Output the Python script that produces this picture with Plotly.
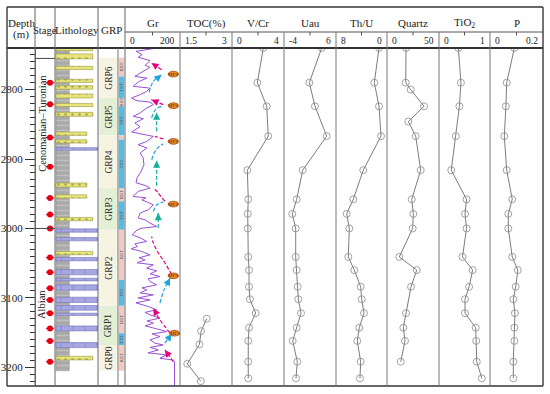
import plotly.graph_objects as go

W, H = 550, 394

# ---------------- data ----------------
depth_range = [3227, 2740]
depth_ticks = [2800, 2900, 3000, 3100, 3200]

stage_names = ["Cenomanian–Turonian", "Albian"]
stage_centers = [2849, 3110]
stage_bounds = [2755, 3000]
sample_marks = [2790, 2821, 2869, 2911, 2956, 2980, 3000, 3042, 3063, 3086, 3103, 3122, 3144, 3162, 3192]

mud_top, mud_base = 2740, 3205
sand_depth = [2741.9, 2752.1, 2768.7, 2787.3, 2796.8, 2809.1, 2822.1, 2835.6, 2863.5, 2874.6, 2937.4, 2953.9, 2986.5, 3035.5, 3186.8]
sand_thick = [3.9, 7.2, 4.8, 4.5, 5.0, 5.8, 4.5, 5.8, 4.9, 4.8, 5.8, 4.8, 4.8, 4.8, 5.3]
sand_end = [0.88, 0.88, 0.88, 0.88, 0.88, 0.88, 0.88, 0.88, 0.74, 0.74, 0.74, 0.74, 0.88, 0.88, 0.88]
lime_depth = [2885.5, 3003, 3015.4, 3044.2, 3063, 3073.6, 3085.1, 3102.9, 3114.4, 3123.8, 3144, 3168.1]
lime_thick = [3.9, 4.8, 4.8, 4.8, 7.7, 3.9, 7.7, 7.7, 6.7, 3.4, 7.2, 7.2]

grp_names = ["GRP6", "GRP5", "GRP4", "GRP3", "GRP2", "GRP1", "GRP0"]
grp_top = [2754, 2812, 2866, 2942, 3002, 3111.5, 3168]
grp_base = [2812, 2866, 2942, 3002, 3111.5, 3168, 3205]
grp_fill = ["#f6f3e3", "#e3f0d6", "#f6f3e3", "#e3f0d6", "#f6f3e3", "#e3f0d6", "#f6f3e3"]

st_top = [2754, 2781, 2812, 2824, 2866, 2872, 2942, 2961, 3002, 3074, 3111.5, 3151, 3168]
st_base = [2781, 2812, 2824, 2866, 2872, 2942, 2961, 3002, 3074, 3111.5, 3151, 3168, 3205]
st_type = ["RST", "TST", "RST", "TST", "RST", "TST", "RST", "TST", "RST", "TST", "RST", "TST", "RST"]

gr_depth = [2740, 2744.8, 2749.5, 2753.4, 2758.2, 2765, 2767.8, 2775.9, 2780.8, 2783.4, 2788.9, 2795.2, 2797.8,
            2802.5, 2807.2, 2812, 2815.9, 2818, 2821.6, 2826.4, 2833.6, 2838.5, 2841.8, 2848, 2853.4, 2861, 2863.9,
            2867.4, 2874.6, 2879.3, 2884.1, 2891.3, 2898.1, 2908.2, 2918.3, 2926.9, 2934.1, 2938.5, 2941.8, 2946.7,
            2953.9, 2955.8, 2958.7, 2963, 2965.9, 2973.1, 2977.8, 2985, 2987.5, 2992.3, 2997.2, 2999.8, 3003.4,
            3009.1, 3013.5, 3018.8, 3022.1, 3026, 3029.3, 3033.2, 3038, 3042.3, 3045.2, 3049.5, 3052.4, 3057.2,
            3061.1, 3065.4, 3069.3, 3072.6, 3076.5, 3081.2, 3085.6, 3088.5, 3092.8, 3095.7, 3100, 3102.9, 3107.2,
            3112.5, 3117.3, 3120.9, 3124.5, 3129.3, 3133.2, 3136.5, 3140.4, 3144.7, 3148.6, 3151.9, 3155.8, 3160.6,
            3165.3, 3167.8, 3171.4, 3175, 3179.3, 3182.2, 3187, 3189.4, 3191.9, 3227]
gr_value = [115, 40, 62, 48, 91, 73, 91, 55, 36, 79, 48, 30, 91,
            79, 55, 24, 43, 91, 103, 79, 55, 30, 67, 36, 55, 24, 67,
            103, 79, 48, 79, 55, 66, 69, 58, 44, 40, 76, 91, 48,
            29, 76, 61, 84, 103, 85, 55, 48, 73, 91, 116, 58, 40,
            26, 55, 79, 36, 45, 22, 61, 91, 51, 73, 44, 103, 79,
            115, 91, 127, 84, 91, 115, 62, 79, 55, 103, 47, 91, 40,
            85, 115, 73, 91, 127, 80, 103, 73, 116, 152, 98, 127, 91,
            109, 139, 91, 121, 84, 152, 127, 170, 180, 180]

# arrows on the Gr track: (depths, Gr values), last point is the head
mag_arrow_depth = [[2771.2, 2761.5], [2821.6, 2814.4], [2871.1, 2867.4], [2961.1, 2948.6, 2941.8],
                   [3066.8, 3049.5, 3035.1, 3020.7, 3011.6], [3150.5, 3131.7, 3114.9], [3191.9, 3175]]
mag_arrow_value = [[133, 96], [139, 96], [140, 109], [145, 120, 105],
                   [170, 145, 121, 103, 97], [164, 127, 103], [176, 145]]
cyan_arrow_depth = [[2803.9, 2788.5, 2778.4], [2840.8, 2828.8, 2823.1], [2901, 2886.5, 2877.9],
                    [2975.5, 2965.9, 2962], [3107.6, 3088.5, 3071.6], [3165.3, 3151.9]]
cyan_arrow_value = [[88, 102, 133], [97, 111, 139], [97, 113, 139],
                    [103, 116, 139], [127, 142, 164], [145, 170]]
teal_arrow_depth = [[2860.1, 2833.2], [2938.5, 2902.4], [2999.5, 2977.8]]
teal_arrow_value = [[115, 115], [115, 115], [121, 121]]
mfs_depth = [2777.6, 2823.1, 2874.6, 2964.9, 3068.3, 3150.9]
mfs_value = [176, 176, 176, 176, 176, 180]

geo_depth = [2740, 2790, 2824, 2867, 2916, 2958, 2979, 3000, 3041, 3060, 3084, 3102, 3122, 3143, 3162, 3192, 3216]
vcr = [2.41, 1.95, 2.67, 2.79, 1.18, 1.25, 1.21, 1.21, 1.25, 1.31, 1.31, 1.38, 1.82, 1.31, 1.25, 1.25, 1.25]
uau = [3.25, 0.87, 1.96, 4.21, -0.40, -1.56, -2.40, -1.75, -1.75, -1.56, -1.37, -1.25, -0.73, -1.56, -2.33, -1.44, -1.69]
thu = [1.25, 1.99, 1.25, 0.94, 3.72, 5.29, 6.32, 5.91, 6.07, 5.13, 4.13, 3.97, 3.61, 4.35, 4.66, 4.13, 4.24]
tio2 = [0.38, 0.43, 0.40, 0.33, 0.24, 0.54, 0.51, 0.54, 0.46, 0.66, 0.59, 0.51, 0.51, 0.72, 0.73, 0.74, 0.84]
p_val = [0.092, 0.063, 0.060, 0.054, 0.063, 0.084, 0.069, 0.069, 0.084, 0.105, 0.097, 0.088, 0.094, 0.092, 0.092, 0.088, 0.088]
quartz_depth = [2740, 2790, 2800, 2824, 2846, 2867, 2916, 2958, 2979, 3000, 3041, 3060, 3084, 3122, 3143, 3162, 3192]
quartz = [18.3, 18.0, 22.8, 35.6, 20.5, 27.6, 32.4, 23.8, 25.3, 24.7, 11.8, 28.6, 23.1, 18.3, 15.7, 17.3, 13.2]
toc_depth = [3130, 3148, 3167, 3195, 3220]
toc = [2.27, 2.11, 2.06, 1.71, 2.10]

track_titles = ["Gr", "TOC(%)", "V/Cr", "Uau", "Th/U", "Quartz", "TiO<sub>2</sub>", "P"]
track_left_labels = ["0", "1.5", "0", "-4", "8", "0", "0", "0"]
track_right_labels = ["200", "3", "4", "6", "0", "50", "1", "0.2"]
track_ranges = [[0, 200], [1.5, 3], [0, 4], [-4, 6], [8, 0], [0, 50], [0, 1], [0, 0.2]]

# ---------------- layout geometry (pixels) ----------------
X0, X1 = 7, 543
Y_TOP, Y_MID, Y_HEAD, Y_BOT = 7, 32, 48, 386
col_edges = [7, 35, 55, 98, 125]
track_edges = [125, 180, 232, 284, 336, 387, 439, 490, 543]
SERIF = "Liberation Serif"


def px(x):
    return x / W


def py(y):
    return 1 - y / H


fig = go.Figure()

layout_axes = {}


def add_xaxis(idx, l, r, rng):
    name = "xaxis" if idx == 1 else f"xaxis{idx}"
    layout_axes[name] = dict(domain=[px(l), px(r)], range=rng, visible=False, anchor="y", fixedrange=True)


add_xaxis(1, 35, 55, [0, 1])      # stage
add_xaxis(2, 55, 98, [0, 1])      # lithology
add_xaxis(3, 98, 125, [0, 1])     # GRP
for i, rng in enumerate(track_ranges):
    add_xaxis(4 + i, track_edges[i], track_edges[i + 1], rng)

# ---- stage column ----
fig.add_trace(go.Scatter(
    x=[0.75] * len(sample_marks), y=sample_marks, xaxis="x", yaxis="y", mode="markers",
    marker=dict(color="#e60012", size=6, symbol="circle"),
    error_x=dict(type="constant", value=0.2, color="#e60012", thickness=1.2, width=0),
    hoverinfo="skip"))

# ---- lithology ----
LB = 0.023
fig.add_trace(go.Bar(
    x=[0.333 - LB], y=[(mud_top + mud_base) / 2], base=[LB], width=[mud_base - mud_top],
    orientation="h", xaxis="x2", yaxis="y",
    marker=dict(color="#a9a9a9", line=dict(color="#8a8a8a", width=0.5),
                pattern=dict(shape="-", fgcolor="#d6d6d6", size=5, solidity=0.3)),
    hoverinfo="skip"))
fig.add_trace(go.Bar(
    x=[e - LB for e in sand_end], y=sand_depth, base=[LB] * len(sand_depth), width=sand_thick,
    orientation="h", xaxis="x2", yaxis="y",
    marker=dict(color="#e6e47a", line=dict(color="#9c9a45", width=0.6),
                pattern=dict(shape=".", fgcolor="#6d6b2a", size=7, solidity=0.12)),
    hoverinfo="skip"))
fig.add_trace(go.Bar(
    x=[1.0 - LB] * len(lime_depth), y=lime_depth, base=[LB] * len(lime_depth), width=lime_thick,
    orientation="h", xaxis="x2", yaxis="y",
    marker=dict(color="#a6a6e2", line=dict(color="#7373b8", width=0.6),
                pattern=dict(shape="|", fgcolor="#7373b8", size=12, solidity=0.08)),
    hoverinfo="skip"))

# ---- Gr track ----
fig.add_trace(go.Scatter(x=gr_value, y=gr_depth, xaxis="x4", yaxis="y", mode="lines",
                         line=dict(color="#9a4fd8", width=1), hoverinfo="skip"))

annotations = []
shapes = []


def add_arrow(depths, values, color, smooth):
    fig.add_trace(go.Scatter(x=values, y=depths, xaxis="x4", yaxis="y", mode="lines",
                             line=dict(color=color, width=1.2, dash="4px,2px",
                                       shape="spline" if smooth else "linear"),
                             hoverinfo="skip"))
    hx, hy = values[-1], depths[-1]
    tx = hx + 0.35 * (values[-2] - hx)
    ty = hy + 0.35 * (depths[-2] - hy)
    annotations.append(dict(x=hx, y=hy, ax=tx, ay=ty, xref="x4", yref="y", axref="x4", ayref="y",
                            showarrow=True, arrowhead=2, arrowsize=1.1, arrowwidth=1.3,
                            arrowcolor=color, text=""))


for d, v in zip(mag_arrow_depth, mag_arrow_value):
    add_arrow(d, v, "#e5007f", True)
for d, v in zip(cyan_arrow_depth, cyan_arrow_value):
    add_arrow(d, v, "#1ea5dc", True)
for d, v in zip(teal_arrow_depth, teal_arrow_value):
    add_arrow(d, v, "#14b09a", False)

for d, v in zip(mfs_depth, mfs_value):
    shapes.append(dict(type="circle", xref="x4", yref="y", x0=v - 19, x1=v + 19, y0=d - 4.1, y1=d + 4.1,
                       fillcolor="#ef8a2c", line=dict(color="#9a4a05", width=0.8), layer="above"))
    annotations.append(dict(x=v, y=d, xref="x4", yref="y", text="MFS", showarrow=False,
                            font=dict(family=SERIF, size=5, color="#5a2a00")))


# ---- geochemical tracks ----
def add_track(axis, xs, ys):
    fig.add_trace(go.Scatter(x=xs, y=ys, xaxis=axis, yaxis="y", mode="lines+markers",
                             line=dict(color="#5a5a5a", width=0.8),
                             marker=dict(symbol="circle-open", size=7, color="#8a8a8a", line=dict(width=0.8)),
                             hoverinfo="skip"))


add_track("x5", toc, toc_depth)
add_track("x6", vcr, geo_depth)
add_track("x7", uau, geo_depth)
add_track("x8", thu, geo_depth)
add_track("x9", quartz, quartz_depth)
add_track("x10", tio2, geo_depth)
add_track("x11", p_val, geo_depth)

# ---- GRP column ----
for name, t, b, c in zip(grp_names, grp_top, grp_base, grp_fill):
    shapes.append(dict(type="rect", xref="x3", yref="y", x0=0.04, x1=0.74, y0=t, y1=b,
                       fillcolor=c, line=dict(width=0), layer="below"))
    annotations.append(dict(x=0.4, y=(t + b) / 2, xref="x3", yref="y", text=name, textangle=-90,
                            showarrow=False, font=dict(family=SERIF, size=9.5, color="#333")))
for t, b, s in zip(st_top, st_base, st_type):
    shapes.append(dict(type="rect", xref="x3", yref="y", x0=0.77, x1=0.97, y0=t, y1=b,
                       fillcolor="#f4c8c1" if s == "RST" else "#4fbfe8", line=dict(width=0), layer="below"))
    if b - t > 8:
        annotations.append(dict(x=0.87, y=(t + b) / 2, xref="x3", yref="y", text=s, textangle=-90,
                                showarrow=False, font=dict(family=SERIF, size=5, color="#555")))

# ---- stage labels & bounds ----
for name, c in zip(stage_names, stage_centers):
    annotations.append(dict(x=0.36, y=c, xref="x", yref="y", text=name, textangle=-90, showarrow=False,
                            font=dict(family=SERIF, size=10.5, color="#222")))
for b in stage_bounds:
    shapes.append(dict(type="line", xref="x", yref="y", x0=0, x1=1, y0=b, y1=b,
                       line=dict(color="#444", width=1)))


# ---- frame and header ----
def pline(x0, y0, x1, y1, w=1.0, c="#555"):
    shapes.append(dict(type="line", xref="paper", yref="paper", x0=px(x0), x1=px(x1), y0=py(y0), y1=py(y1),
                       line=dict(color=c, width=w), layer="above"))


for y, w in [(Y_TOP, 1.5), (Y_HEAD, 1.8), (Y_BOT, 1.5)]:
    pline(X0, y, X1, y, w, "#333")
pline(125, Y_MID, X1, Y_MID, 1.0, "#555")
for x in col_edges:
    pline(x, Y_TOP, x, Y_BOT, 1.5 if x == X0 else 1.0, "#444" if x == X0 else "#666")
pline(X1, Y_TOP, X1, Y_BOT, 1.5, "#444")
pline(118, Y_HEAD, 118, Y_BOT, 1.0, "#777")
for x in track_edges[1:-1]:
    pline(x, Y_MID, x, Y_BOT, 1.0, "#777")


def ptext(x, y, s, size=11, anchor="center"):
    annotations.append(dict(x=px(x), y=py(y), xref="paper", yref="paper", text=s, showarrow=False,
                            xanchor=anchor, yanchor="middle", font=dict(family=SERIF, size=size, color="#222")))


ptext(21, 23, "Depth", 11)
ptext(21, 35, "(m)", 11)
ptext(45, 30, "Stage", 10.5)
ptext(76.5, 30, "Lithology", 11)
ptext(111.5, 30, "GRP", 11)
for i, title in enumerate(track_titles):
    l, r = track_edges[i], track_edges[i + 1]
    ptext((l + r) / 2, 23, title, 11)
    ptext(l + 3, 41, track_left_labels[i], 9.5, "left")
    ptext(r - 3, 41, track_right_labels[i], 9.5, "right")
    pline((l + r) / 2, Y_MID, (l + r) / 2, Y_MID + 3.5, 1.0, "#555")

fig.update_layout(
    width=W, height=H, margin=dict(l=0, r=0, t=0, b=0, autoexpand=False),
    paper_bgcolor="white", plot_bgcolor="white", showlegend=False, barmode="overlay",
    yaxis=dict(domain=[py(Y_BOT), py(Y_HEAD)], range=depth_range, anchor="free", position=px(35),
               side="left", tickmode="array", tickvals=depth_ticks, ticks="outside", ticklen=10,
               tickwidth=1, tickcolor="#333", showline=True, linecolor="#666", linewidth=1,
               showgrid=False, zeroline=False, fixedrange=True, automargin=False,
               tickfont=dict(family=SERIF, size=11, color="#222"),
               minor=dict(tickmode="linear", tick0=2740, dtick=10, ticks="outside", ticklen=5,
                          tickcolor="#333", tickwidth=1, showgrid=False)),
    shapes=shapes, annotations=annotations,
    **layout_axes)

fig.write_html("out.html", config={"displayModeBar": False},
               post_script="document.body.style.margin='0';document.body.style.overflow='hidden';")
